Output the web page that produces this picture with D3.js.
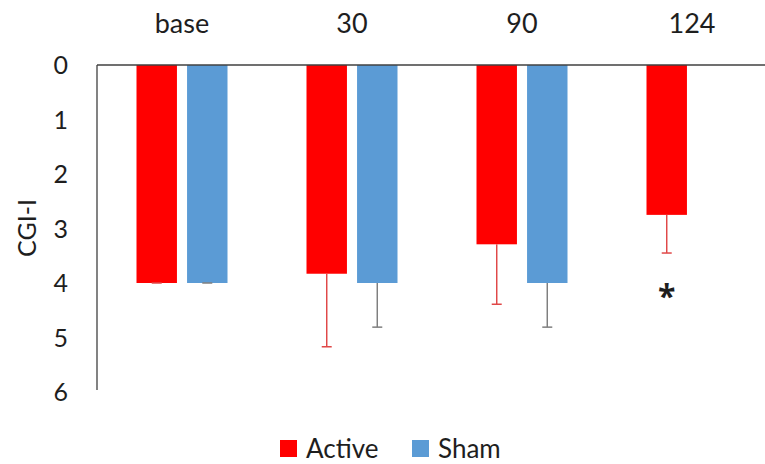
<!DOCTYPE html>
<html><head><meta charset="utf-8">
<script src="https://cdn.jsdelivr.net/npm/d3@7"></script>
<style>body{margin:0;background:#fff}svg{display:block}text{font-family:Lato,"Open Sans",sans-serif;fill:#1e1e1e}</style>
</head><body>
<svg id="c" width="765" height="464"></svg>
<script>
const categories = ["base", "30", "90", "124"];
const seriesNames = ["Active", "Sham"];
const activeValues = [4.0, 3.83, 3.29, 2.75];
const activeErrors = [0.0, 1.34, 1.10, 0.70];
const shamValues = [4.0, 4.0, 4.0, null];
const shamErrors = [0.0, 0.81, 0.81, null];
const yTicks = [0, 1, 2, 3, 4, 5, 6];
const colors = {Active: "#ff0000", Sham: "#5b9bd5"};
const errColors = {Active: "#e04848", Sham: "#7f7f7f"};

const svg = d3.select("#c");
const mLeft = 97, mRight = 777, mTop = 65, mBottom = 392;
const x0 = d3.scaleBand().domain(categories).range([mLeft, mRight]).paddingInner(0).paddingOuter(0);
const x1 = d3.scaleBand().domain(seriesNames).range([x0.bandwidth()/2 - 45.5, x0.bandwidth()/2 + 45.5]).paddingInner(0.2).paddingOuter(0);
const y = d3.scaleLinear().domain([0, 6]).range([mTop, mBottom]);

const data = [];
categories.forEach((c, i) => {
  data.push({c, s: "Active", v: activeValues[i], e: activeErrors[i]});
  if (shamValues[i] != null) data.push({c, s: "Sham", v: shamValues[i], e: shamErrors[i]});
});

// bars
svg.append("g").selectAll("rect").data(data).join("rect")
  .attr("x", d => x0(d.c) + x1(d.s))
  .attr("y", y(0))
  .attr("width", x1.bandwidth())
  .attr("height", d => y(d.v) - y(0))
  .attr("fill", d => colors[d.s]);

// error bars
const eg = svg.append("g");
data.forEach(d => {
  const cx = x0(d.c) + x1(d.s) + x1.bandwidth()/2;
  const y1 = y(d.v), y2 = y(d.v + d.e);
  eg.append("line").attr("x1", cx).attr("x2", cx).attr("y1", y1).attr("y2", y2)
    .attr("stroke", errColors[d.s]).attr("stroke-width", 1.5);
  eg.append("line").attr("x1", cx - 5).attr("x2", cx + 5).attr("y1", y2).attr("y2", y2)
    .attr("stroke", errColors[d.s]).attr("stroke-width", 1.5);
});

// axes lines
svg.append("line").attr("x1", mLeft).attr("x2", 765).attr("y1", y(0)).attr("y2", y(0))
  .attr("stroke", "#404040").attr("stroke-width", 1.3);
svg.append("line").attr("x1", mLeft).attr("x2", mLeft).attr("y1", y(0)).attr("y2", y(6) - 2)
  .attr("stroke", "#404040").attr("stroke-width", 1.3);

// y tick labels
svg.append("g").selectAll("text").data(yTicks).join("text")
  .attr("x", 68).attr("y", d => y(d)).attr("dy", "0.36em")
  .attr("text-anchor", "end").style("font-size", "25px").text(d => d);

// category labels on top
svg.append("g").selectAll("text").data(categories).join("text")
  .attr("x", d => x0(d) + x0.bandwidth()/2).attr("y", 33)
  .attr("text-anchor", "middle").style("font-size", "27px").text(d => d);

// y axis title
svg.append("text").attr("transform", "translate(36,228) rotate(-90)")
  .attr("text-anchor", "middle").style("font-size", "25px").text("CGI-I");

// asterisk
svg.append("text").attr("x", x0("124") + x1("Active") + x1.bandwidth()/2).attr("y", 308)
  .attr("text-anchor", "middle").style("font-family", "'Open Sans', sans-serif")
  .style("font-size", "32px").style("font-weight", "bold").text("*");

// legend
const lg = svg.append("g");
const legendX = [280, 412];
seriesNames.forEach((s, i) => {
  lg.append("rect").attr("x", legendX[i]).attr("y", 440).attr("width", 17).attr("height", 17).attr("fill", colors[s]);
  lg.append("text").attr("x", legendX[i] + 26).attr("y", 458).style("font-size", "26px").text(s);
});
</script>
</body></html>
